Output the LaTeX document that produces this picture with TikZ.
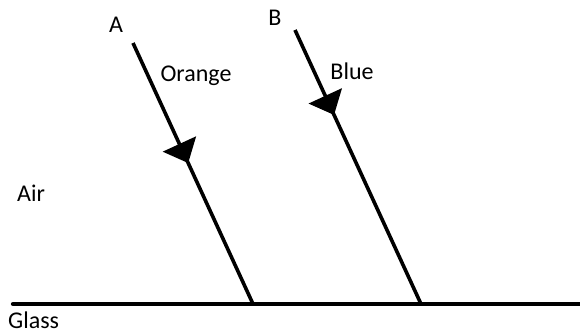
\documentclass[tikz,border=0pt]{standalone}
\usepackage{fontspec}
\setmainfont{Carlito}
\usetikzlibrary{arrows.meta,decorations.markings}
\begin{document}
\begin{tikzpicture}[x=1pt,y=-1pt,
  lbl/.style={font=\fontsize{24}{27}\selectfont,inner sep=0pt},
  ray/.style={line width=3.6pt},
  surface/.style={line width=4.3pt,line cap=round},
  midarrow/.style={postaction={decorate},decoration={markings,
     mark=at position #1 with {\arrow{Triangle[length=21pt,width=36pt]}}}}]
\useasboundingbox (0,0) rectangle (580,332);
\coordinate (A1) at (133,43);
\coordinate (A2) at (253,304);
\coordinate (B1) at (295,30);
\coordinate (B2) at (421,304);
\coordinate (G1) at (13,304);
\coordinate (G2) at (582,304);
\draw[surface] (G1) -- (G2);
\draw[ray,midarrow=0.46] (A1) -- (A2);
\draw[ray,midarrow=0.31] (B1) -- (B2);
\node[lbl] (la) at (116,25) {A};
\node[lbl] (lo) at (196,76) {Orange};
\node[lbl] (lb) at (275,18) {B};
\node[lbl] (lbl) at (352,71) {Blue};
\node[lbl] (lair) at (31,193) {Air};
\node[lbl,anchor=base west] (lg) at (8,328.5) {Glass};
\end{tikzpicture}
\end{document}
